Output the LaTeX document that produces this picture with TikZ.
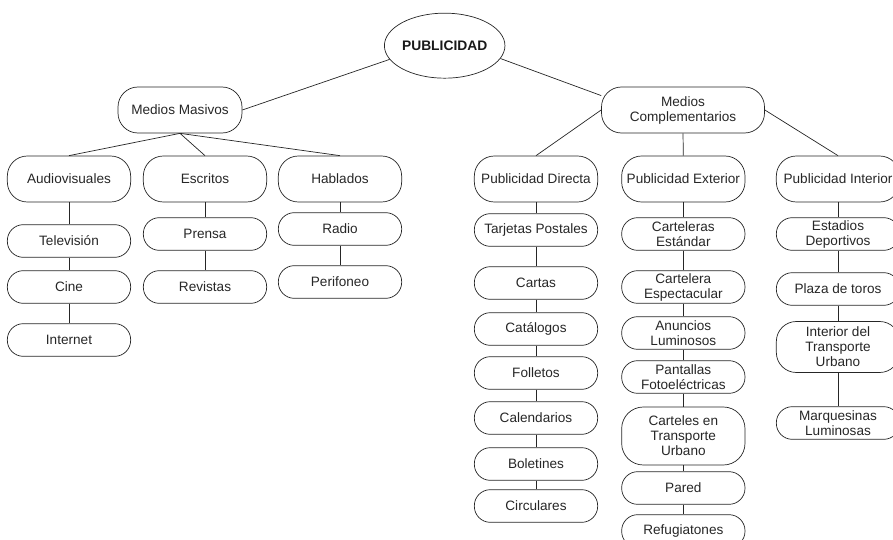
\documentclass[tikz,border=0pt]{standalone}
\usepackage{fontspec}
\setmainfont{Liberation Sans}
\usepackage{tikz}
\usetikzlibrary{shapes.geometric}

\begin{document}
\begin{tikzpicture}[auto, node distance=1.59cm, line width=0.6pt, draw=black!85,
			top node/.style={ellipse,draw,inner sep=0pt,minimum width=3.33cm,minimum height=1.95cm,
				text=black!90,font=\fontsize{11.8}{13}\selectfont\bfseries},
			main node/.style={rectangle,rounded corners=0.6cm,draw,align=center,inner sep=1pt,
				minimum width=3.7cm,minimum height=1.38cm,text=black!85,font=\fontsize{11.6}{12.8}\selectfont},
			sub node/.style={main node,rounded corners=0.48cm,minimum height=0.98cm}]
			
			\useasboundingbox (0,0) rectangle (26.79,-16.2);
			
			\node[top node] (1) at (13.34,-1.37) {PUBLICIDAD};
			\node[main node, minimum width=3.72cm] (2) at (5.4,-3.3) {Medios Masivos};
			\node[main node, minimum width=4.89cm] (3) at (20.49,-3.3) {Medios\\Complementarios};
			
			% medios masivos
			\node[main node] (4) at (2.07,-5.37) {Audiovisuales};
			\node[main node] (5) at (6.15,-5.37) {Escritos};
			\node[main node] (6) at (10.2,-5.37) {Hablados};
			\node[sub node, node distance=1.86cm] (7) [below of=4] {Televisión};
			\node[sub node, node distance=1.38cm] (8) [below of=7] {Cine};
			\node[sub node] (9) [below of=8] {Internet};
			\node[sub node, node distance=1.65cm] (10) [below of=5] {Prensa};
			\node[sub node] (11) [below of=10] {Revistas};
			\node[sub node, node distance=1.5cm] (12) [below of=6] {Radio};
			\node[sub node] (13) [below of=12] {Perifoneo};
			
			% medios complementarios
			\node[main node] (14) at (16.08,-5.37) {Publicidad Directa};
			\node[main node] (15) at (20.5,-5.37) {Publicidad Exterior};
			\node[main node] (16) at (25.14,-5.37) {Publicidad Interior};
			
			\node[sub node, node distance=1.53cm] (17) [below of=14] {Tarjetas Postales};
			\node[sub node] (18) [below of=17] {Cartas};
			\node[sub node, node distance=1.38cm] (19) [below of=18] {Catálogos};
			\node[sub node, node distance=1.32cm] (20) [below of=19] {Folletos};
			\node[sub node, node distance=1.35cm] (21) [below of=20] {Calendarios};
			\node[sub node, node distance=1.38cm] (22) [below of=21] {Boletines};
			\node[sub node, node distance=1.26cm] (23) [below of=22] {Circulares};
			
			\node[sub node, node distance=1.65cm] (24) [below of=15] {Carteleras\\Estándar};
			\node[sub node] (25) [below of=24] {Cartelera\\Espectacular};
			\node[sub node, node distance=1.38cm] (26) [below of=25] {Anuncios\\Luminosos};
			\node[sub node, node distance=1.32cm] (27) [below of=26] {Pantallas\\Fotoeléctricas};
			\node[sub node, node distance=1.77cm, minimum height=1.74cm, rounded corners=0.65cm] (28) [below of=27] {Carteles en\\Transporte\\Urbano};
			\node[sub node, node distance=1.56cm] (29) [below of=28] {Pared};
			\node[sub node, node distance=1.29cm] (30) [below of=29] {Refugiatones};
			
			\node[sub node, node distance=1.65cm] (31) [below of=16] {Estadios\\Deportivos};
			\node[sub node, node distance=1.65cm] (32) [below of=31] {Plaza de toros};
			\node[sub node, node distance=1.74cm, minimum height=1.53cm, rounded corners=0.6cm] (33) [below of=32] {Interior del\\Transporte\\Urbano};
			\node[sub node, node distance=2.28cm] (34) [below of=33] {Marquesinas\\Luminosas};
			
			\path (1.194) edge (2.east)
			(1.347) edge (3.170)
			(2.south) edge (4.north)
			edge (5.north)
			edge (6.north)
			(3.west) edge (14.north)
			(3.south) edge (15.north)
			(3.east) edge (16.north)
			(4) edge (7)
			(7) edge (8)
			(8) edge (9)
			(5) edge (10)
			(10) edge (11)
			(6) edge (12)
			(12) edge (13)
			(14) edge (17)
			(17) edge (18)
			(18) edge (19)
			(19) edge (20)
			(20) edge (21)
			(21) edge (22)
			(22) edge (23)
			(15) edge (24)
			(24) edge (25)
			(25) edge (26)
			(26) edge (27)
			(27) edge (28)
			(28) edge (29)
			(29) edge (30)
			(16) edge (31)
			(31) edge (32)
			(32) edge (33)
			(33) edge (34);
			\end{tikzpicture}
\end{document}
